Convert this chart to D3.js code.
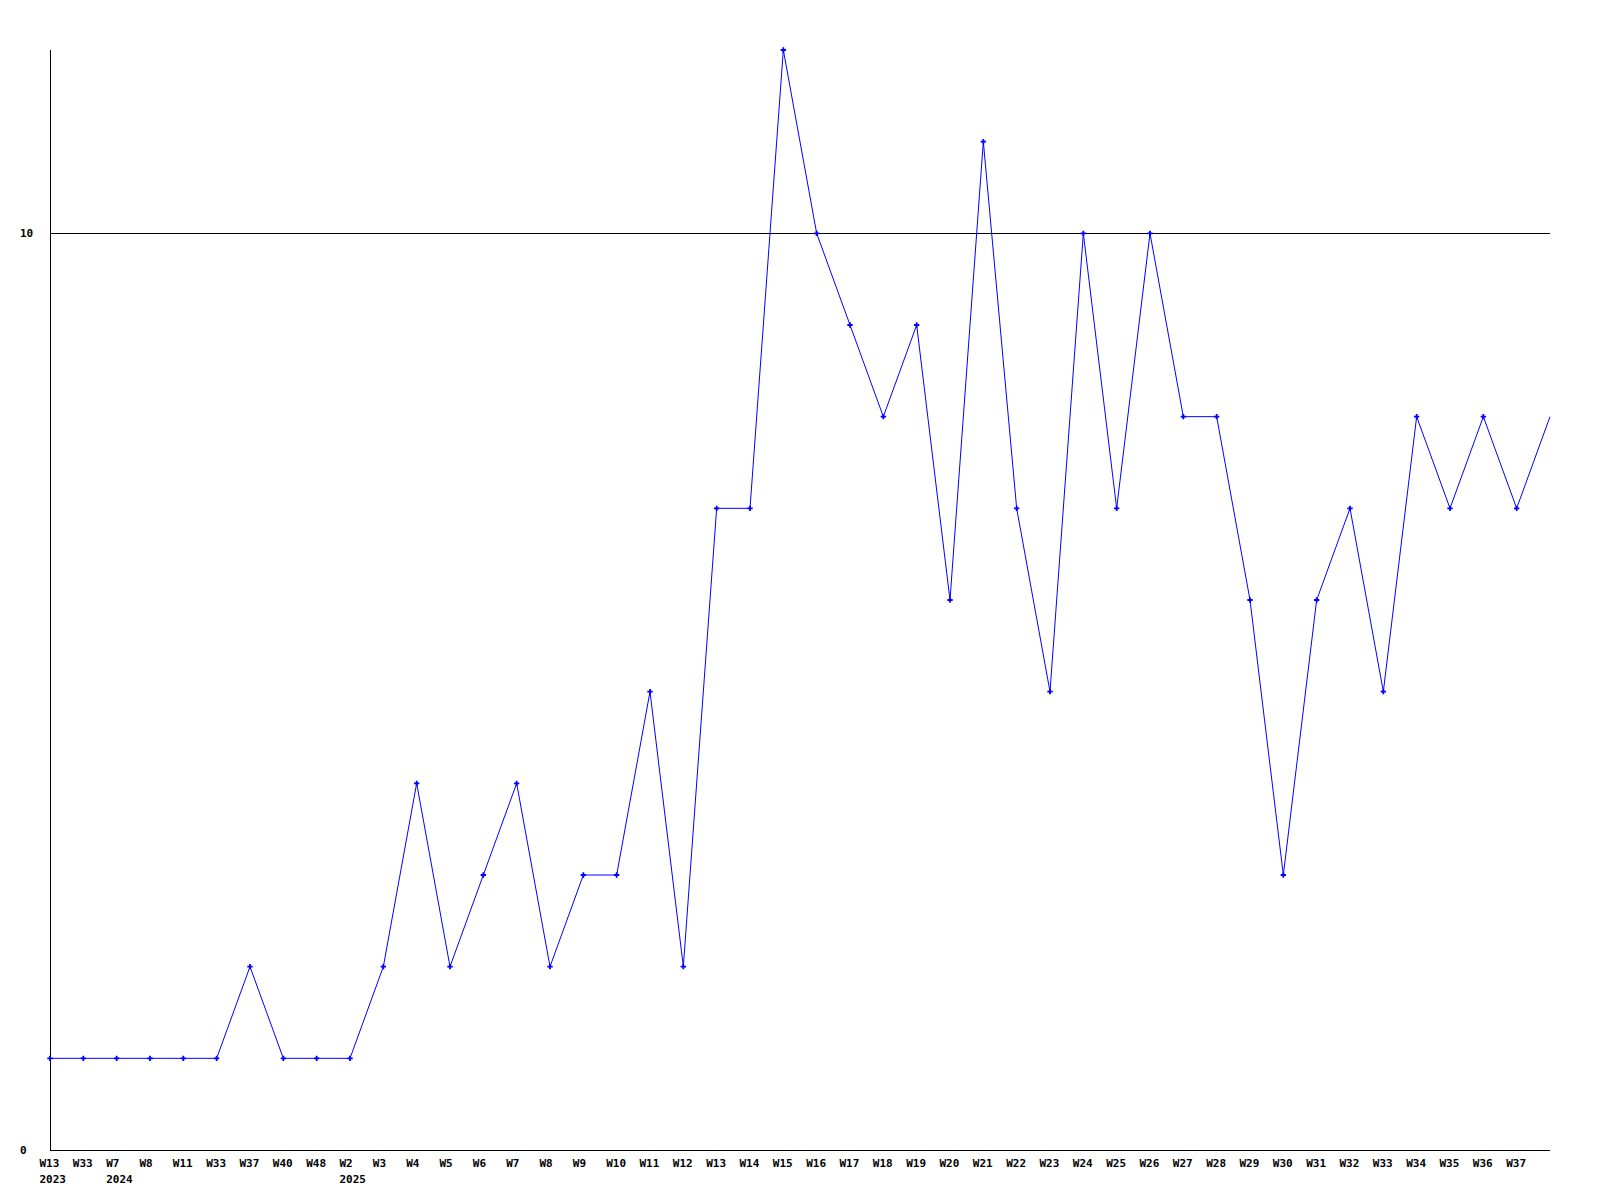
<!DOCTYPE html>
<html>
<head>
<meta charset="utf-8">
<script src="https://cdn.jsdelivr.net/npm/d3@7"></script>
<style>
  body { margin: 0; background: #fff; }
  text { font-family: "DejaVu Sans Mono", monospace; font-size: 11px; font-weight: bold; fill: #000; }
</style>
</head>
<body>
<div class="chart"></div>
<script>
const weeks = ["W13","W33","W7","W8","W11","W33","W37","W40","W48","W2","W3","W4","W5","W6","W7","W8","W9","W10",
  "W11","W12","W13","W14","W15","W16","W17","W18","W19","W20","W21","W22","W23","W24","W25","W26","W27","W28",
  "W29","W30","W31","W32","W33","W34","W35","W36","W37",""];
const years = {0: "2023", 2: "2024", 9: "2025"};
const values = [1,1,1,1,1,1,2,1,1,1,2,4,2,3,4,2,3,3,5,2,7,7,12,10,9,8,9,6,11,7,5,10,7,10,8,8,6,3,6,7,5,8,7,8,7,8];
const yTicks = [0, 10];

const margin = {top: 50, left: 50, right: 50, bottom: 50};
const width = 1600 - margin.left - margin.right,
  height = 1200 - margin.top - margin.bottom;

const svg = d3.select('.chart')
  .append('svg')
  .attr('width', 1600)
  .attr('height', 1200)
  .append("g")
  .attr("transform", "translate(" + margin.left + "," + margin.top + ")");

const xScale = d3.scalePoint()
  .domain(d3.range(values.length))
  .range([0, width]);

const yScale = d3.scaleLinear()
  .domain([0, 12])
  .range([height, 0]);

// gridline at 10
svg.append("line")
  .attr("x1", 0).attr("x2", width)
  .attr("y1", Math.round(yScale(10)) + 0.5).attr("y2", Math.round(yScale(10)) + 0.5)
  .attr("stroke", "#000")
  .attr("shape-rendering", "crispEdges");

// axis lines
svg.append("line")
  .attr("x1", 0.5).attr("x2", 0.5).attr("y1", 0).attr("y2", height)
  .attr("stroke", "#000").attr("shape-rendering", "crispEdges");
svg.append("line")
  .attr("x1", 0).attr("x2", width).attr("y1", height + 0.5).attr("y2", height + 0.5)
  .attr("stroke", "#000").attr("shape-rendering", "crispEdges");

const yAxis = d3.axisLeft(yScale).tickValues(yTicks).tickSize(0).tickFormat(d3.format("d"));
svg.append("g")
  .attr("class", "axis y-axis")
  .call(yAxis)
  .call(g => g.select(".domain").remove())
  .selectAll("text")
  .attr("x", -30)
  .attr("text-anchor", "start")
  .attr("dy", "0.3em");

const xAxis = d3.axisBottom(xScale).tickSize(0).tickFormat(i => weeks[i]);
const xg = svg.append("g")
  .attr("class", "axis x-axis")
  .attr("transform", "translate(0," + height + ")")
  .call(xAxis);
xg.select(".domain").remove();
xg.selectAll(".tick text")
  .attr("y", 9)
  .attr("x", -11)
  .attr("text-anchor", "start")
  .attr("dy", "0.71em");
xg.selectAll(".tick")
  .filter(i => years[i])
  .append("text")
  .attr("y", 25)
  .attr("dy", "0.71em")
  .attr("text-anchor", "start")
  .attr("x", -11)
  .text(i => years[i]);

const line = d3.line()
  .x((d, i) => xScale(i))
  .y(d => yScale(d));

svg.append("path")
  .datum(values)
  .attr("fill", "none")
  .attr("stroke", "#0000ff")
  .attr("stroke-width", 1)
  .attr("d", line);

// markers (last point runs off the labelled range, no marker)
svg.selectAll(".pt")
  .data(values.slice(0, values.length - 1))
  .enter()
  .append("path")
  .attr("class", "pt")
  .attr("transform", (d, i) => "translate(" + xScale(i) + "," + yScale(d) + ")")
  .attr("d", d3.symbol(d3.symbolCross).size(16))
  .attr("fill", "#0000ff");
</script>
</body>
</html>
